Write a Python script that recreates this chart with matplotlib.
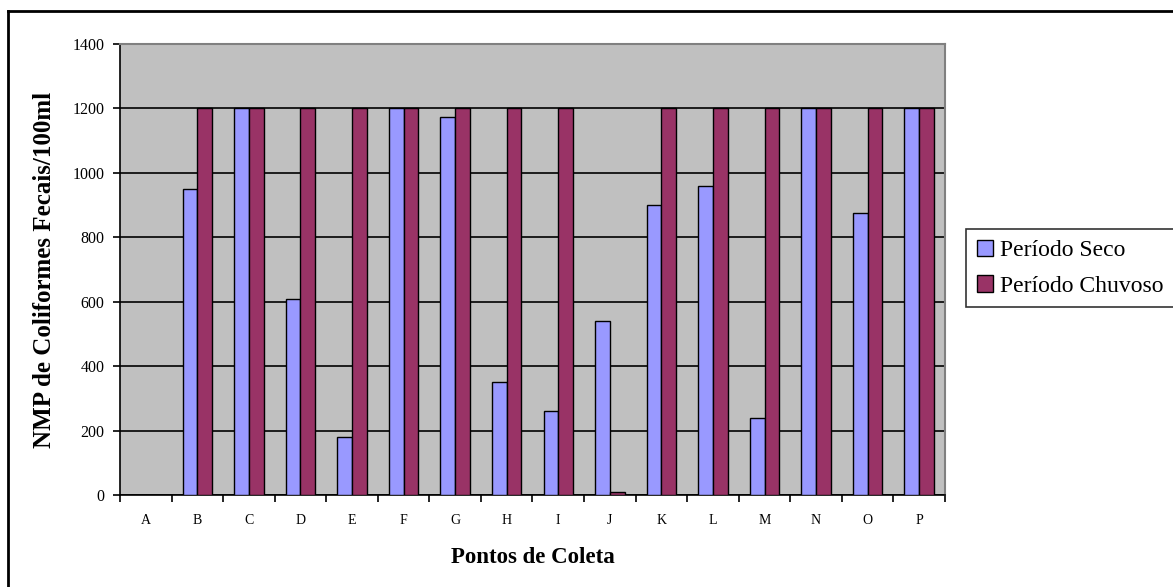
import matplotlib.pyplot as plt
import numpy as np
from matplotlib.lines import Line2D

# pontos de coleta e valores de NMP (coliformes fecais / 100 ml)
pontos = ["A", "B", "C", "D", "E", "F", "G", "H", "I", "J", "K", "L", "M", "N", "O", "P"]
seco = [0, 950, 1200, 610, 180, 1200, 1175, 350, 260, 540, 900, 960, 240, 1200, 875, 1200]
chuvoso = [0, 1200, 1200, 1200, 1200, 1200, 1200, 1200, 1200, 10, 1200, 1200, 1200, 1200, 1200, 1200]

plt.rcParams['font.family'] = ['Liberation Serif', 'DejaVu Serif']

fig = plt.figure(figsize=(11.73, 5.87), dpi=100)
ax = fig.add_axes([0.1023, 0.1567, 0.7033, 0.7683])
ax.set_facecolor("#C0C0C0")

x = np.arange(len(pontos))
w = 0.286
ax.bar(x - w / 2, seco, w, color="#9999FF", edgecolor="black", linewidth=1.0,
       label="Período Seco", zorder=3)
ax.bar(x + w / 2, chuvoso, w, color="#993366", edgecolor="black", linewidth=1.0,
       label="Período Chuvoso", zorder=3)

ax.set_xlim(-0.5, len(pontos) - 0.5)
ax.set_ylim(0, 1400)
ax.set_yticks(range(0, 1401, 200))
ax.yaxis.grid(True, color="black", linewidth=1.2, zorder=1)
ax.set_axisbelow(True)

ax.set_xticks(x)
ax.set_xticklabels(pontos, fontsize=10)
ax.tick_params(axis="x", which="major", length=0, pad=14)
ax.set_xticks(np.arange(-0.5, len(pontos), 1), minor=True)
ax.tick_params(axis="x", which="minor", length=5, width=1.2, direction="out")
ax.tick_params(axis="y", length=5, width=1.2, labelsize=11.5, pad=6)

ax.spines["top"].set_color("#808080")
ax.spines["right"].set_color("#808080")
ax.spines["top"].set_linewidth(1.5)
ax.spines["right"].set_linewidth(1.5)
ax.spines["left"].set_linewidth(1.2)
ax.spines["bottom"].set_linewidth(1.2)

ax.set_xlabel("Pontos de Coleta", fontsize=16.5, fontweight="bold", labelpad=14)
ax.set_ylabel("NMP de Coliformes Fecais/100ml", fontsize=18, fontweight="bold", labelpad=12)

leg = fig.legend(loc="upper left", bbox_to_anchor=(0.8235, 0.61), fontsize=17,
                 frameon=True, fancybox=False, edgecolor="black", handlelength=0.7,
                 handleheight=0.7, handletextpad=0.3, labelspacing=0.6, borderpad=0.45,
                 borderaxespad=0)
leg.get_frame().set_linewidth(1.2)

# moldura externa do gráfico
fig.add_artist(Line2D([8 / 1173, 1], [1 - 11 / 587, 1 - 11 / 587],
                      transform=fig.transFigure, color="black", linewidth=2))
fig.add_artist(Line2D([8 / 1173, 8 / 1173], [0, 1 - 11 / 587],
                      transform=fig.transFigure, color="black", linewidth=2))

plt.savefig("out.png", dpi=100)
